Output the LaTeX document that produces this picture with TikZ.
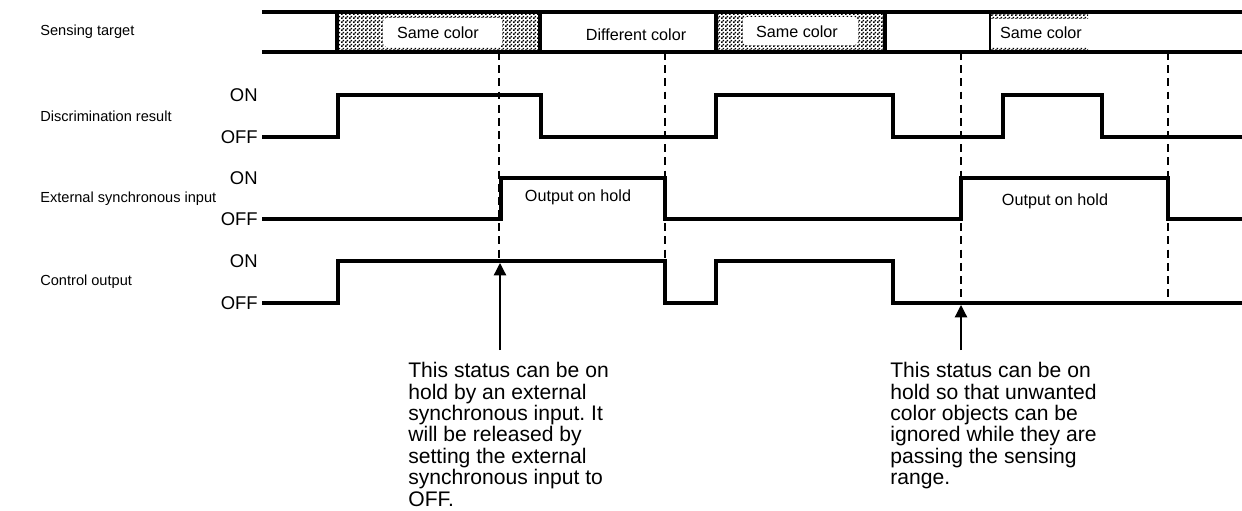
\documentclass[tikz,border=0pt]{standalone}
\usepackage{fontspec}
\setmainfont{Liberation Sans}
\usetikzlibrary{arrows.meta,patterns}
\frenchspacing

\pgfdeclarepatternformonly{checks}{\pgfpointorigin}{\pgfqpoint{2pt}{2pt}}{\pgfqpoint{2pt}{2pt}}{%
  \pgfpathrectangle{\pgfpointorigin}{\pgfqpoint{1pt}{1pt}}%
  \pgfpathrectangle{\pgfqpoint{1pt}{1pt}}{\pgfqpoint{1pt}{1pt}}%
  \pgfusepath{fill}}

\begin{document}
\begin{tikzpicture}[x=0.02cm, y=-0.02cm,
    wave/.style={line width=2pt},
    band/.style={line width=1.8pt},
    guide/.style={line width=0.7pt, dash pattern=on 4.5pt off 3pt},
    dots/.style={pattern=checks},
    rowlabel/.style={anchor=west, inner sep=0pt, font=\fontsize{8.3}{10}\selectfont},
    level/.style={anchor=east, inner sep=0pt, font=\fontsize{10.5}{12}\selectfont},
    tag/.style={inner sep=0pt, font=\fontsize{9.2}{11}\selectfont},
    note/.style={anchor=north west, inner sep=0pt, align=left, font=\fontsize{12}{12.2}\selectfont},
    pointer/.style={line width=0.7pt, -{Triangle[width=7pt,length=7pt]}}
  ]
  \useasboundingbox (0,0) rectangle (1242,511);

  % sensing target band
  \fill[dots] (337,12) rectangle (540,52);
  \fill[dots] (716,12) rectangle (885,52);
  \fill[dots] (990,12) rectangle (1088,18);
  \fill[dots] (990,47) rectangle (1088,52);
  \fill[white, rounded corners=2pt] (383,18) rectangle (502,47);
  \fill[white, rounded corners=2pt] (743,17) rectangle (858,45);
  \draw[band] (262,12) -- (1242,12);
  \draw[band] (262,52) -- (1242,52);
  \draw[band] (337,12) -- (337,52) (540,12) -- (540,52)
              (716,12) -- (716,52) (885,12) -- (885,52);
  \draw[line width=0.6pt] (990,12) -- (990,52);
  \node[tag] (same1) at (438,33) {Same color};
  \node[tag] (diff) at (636,35) {Different color};
  \node[tag] (same2) at (797,32) {Same color};
  \node[tag] (same3) at (1041,33) {Same color};

  % row labels and levels
  \node[rowlabel] (target) at (40,32) {Sensing target};
  \foreach \on/\off/\txt [count=\i] in {95/137/Discrimination result,
      178/219/External synchronous input, 261/303/Control output} {
    \node[rowlabel] (row\i) at (40,{(\on+\off)/2}) {\txt};
    \node[level] (on\i) at (258,\on) {ON};
    \node[level] (off\i) at (258,\off) {OFF};
  }

  % guides
  \foreach \x/\y in {499/261, 665/261, 961/303, 1168/303}
    \draw[guide] (\x,52) -- (\x,\y);

  % waveforms
  \draw[wave] (262,137) -- (338,137) -- (338,95) -- (541,95) -- (541,137)
    -- (716,137) -- (716,95) -- (893,95) -- (893,137) -- (1003,137)
    -- (1003,95) -- (1102,95) -- (1102,137) -- (1242,137);
  \draw[wave] (262,219) -- (501,219) -- (501,178) -- (665,178) -- (665,219)
    -- (961,219) -- (961,178) -- (1168,178) -- (1168,219) -- (1242,219);
  \draw[wave] (262,303) -- (338,303) -- (338,261) -- (665,261) -- (665,303)
    -- (716,303) -- (716,261) -- (893,261) -- (893,303) -- (1242,303);
  \node[tag] (hold1) at (578,197) {Output on hold};
  \node[tag] (hold2) at (1055,201) {Output on hold};

  % notes
  \node[note] (note1) at (408,362) {This status can be on\\hold by an external\\synchronous input. It\\will be released by\\setting the external\\synchronous input to\\OFF.};
  \node[note] (note2) at (890,362) {This status can be on\\hold so that unwanted\\color objects can be\\ignored while they are\\passing the sensing\\range.};
  \coordinate (from1) at (500,350);
  \coordinate (tip1) at (500,263);
  \coordinate (from2) at (961,350);
  \coordinate (tip2) at (961,305);
  \draw[pointer] (from1) -- (tip1);
  \draw[pointer] (from2) -- (tip2);
\end{tikzpicture}
\end{document}
